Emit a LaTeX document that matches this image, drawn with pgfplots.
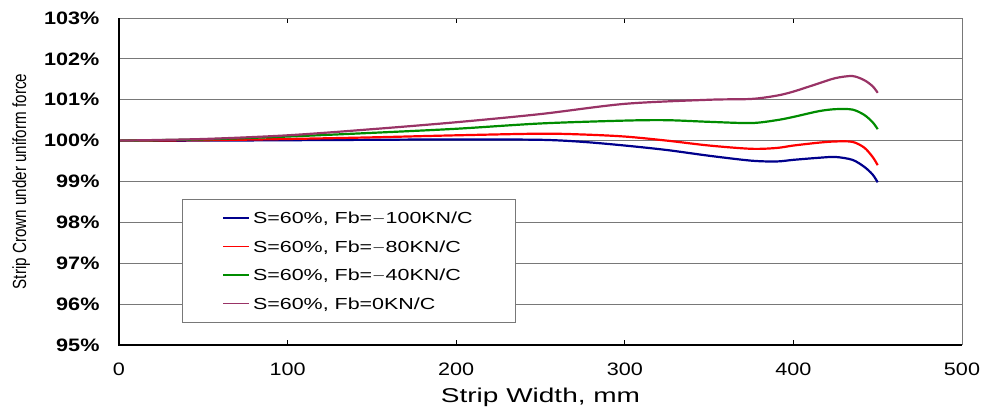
\documentclass[border=0pt]{standalone}
\usepackage{fontspec}
\usepackage{pgfplots}
\pgfplotsset{compat=1.18}
\setmainfont{Liberation Sans}
\newfontfamily\tickfont[FakeStretch=1.2]{Liberation Sans}
\newfontfamily\xlabfont[FakeStretch=1.4]{Liberation Sans}
\newfontfamily\legfont[FakeStretch=1.34]{Liberation Sans}
\newfontfamily\ylabfont[FakeStretch=0.8]{Liberation Sans}
\definecolor{cblue}{RGB}{0,0,140}
\definecolor{cred}{RGB}{255,0,0}
\definecolor{cgreen}{RGB}{0,140,0}
\definecolor{cpurple}{RGB}{153,51,102}
\definecolor{gridgray}{RGB}{120,120,120}
\begin{document}
\begin{tikzpicture}
\begin{axis}[
  scale only axis, width=843pt, height=327pt,
  xmin=0, xmax=500, ymin=95, ymax=103,
  xtick={0,100,200,300,400,500},
  ytick={95,96,97,98,99,100,101,102,103},
  yticklabel={\pgfmathprintnumber{\tick}\%},
  /pgf/number format/assume math mode=true,
  xticklabel style={font=\tickfont\fontsize{18}{20}\selectfont, yshift=-14pt},
  yticklabel style={font=\tickfont\bfseries\fontsize{18}{20}\selectfont, xshift=-16pt},
  ymajorgrids, grid style={gridgray, line width=0.9pt},
  tick align=inside, major tick length=5pt,
  ytick style={draw=none},
  xtick style={black, line width=1pt},
  axis line style={gridgray, line width=1pt},
  xlabel={Strip Width, mm},
  xlabel style={font=\xlabfont\fontsize{20}{22}\selectfont, at={(rel axis cs:0.5,-0.159)}, anchor=center},
  ylabel={Strip Crown under uniform force},
  ylabel style={font=\ylabfont\fontsize{19}{21}\selectfont, at={(rel axis cs:-0.116,0.5)}, anchor=center, rotate=0},
  legend style={at={(axis cs:37.4,98.58)}, anchor=north west, draw=gridgray, line width=0.8pt, fill=white,
    font=\legfont\fontsize{16}{18}\selectfont, inner xsep=40pt, inner ysep=13pt, row sep=17pt,
    nodes={inner ysep=0pt, inner xsep=3pt, text height=11.5pt, text depth=0pt}},
  legend cell align=left,
  legend image code/.code={\draw[#1, line width=1.6pt] (0pt,0pt) -- (26pt,0pt);},
  clip=false,
]
\addplot[cblue, line width=2.2pt, smooth, tension=0.5] coordinates {
(0,100) (50,100) (100,100.01) (150,100.02) (200,100.03) (250,100.02) (275,99.97) (300,99.88) (325,99.77) (350,99.63) (375,99.51) (390,99.49) (400,99.53) (415,99.58) (425,99.6) (435,99.53) (442,99.36) (447,99.17) (450,98.98)};
\addlegendentry{S=60\%, Fb=$-$100KN/C}
\addplot[cred, line width=2.2pt, smooth, tension=0.5] coordinates {
(0,100) (50,100.01) (100,100.04) (150,100.08) (200,100.13) (250,100.17) (275,100.15) (300,100.1) (325,100.0) (350,99.88) (375,99.8) (390,99.82) (400,99.88) (415,99.95) (425,99.98) (435,99.97) (442,99.83) (447,99.6) (450,99.4)};
\addlegendentry{S=60\%, Fb=$-$80KN/C}
\addplot[cgreen, line width=2.2pt, smooth, tension=0.5] coordinates {
(0,100) (50,100.03) (100,100.1) (150,100.19) (200,100.29) (250,100.42) (300,100.49) (325,100.5) (350,100.46) (375,100.43) (390,100.5) (400,100.58) (415,100.72) (425,100.77) (435,100.76) (442,100.63) (447,100.45) (450,100.28)};
\addlegendentry{S=60\%, Fb=$-$40KN/C}
\addplot[cpurple, line width=2.2pt, smooth, tension=0.5] coordinates {
(0,100) (50,100.04) (100,100.13) (150,100.28) (200,100.45) (250,100.65) (300,100.9) (350,101.0) (375,101.02) (390,101.1) (400,101.2) (415,101.4) (425,101.53) (435,101.58) (442,101.48) (447,101.33) (450,101.17)};
\addlegendentry{S=60\%, Fb=0KN/C}
\draw[black, line width=1.3pt] (rel axis cs:0,1) -- (rel axis cs:0,0) -- (rel axis cs:1,0);
\end{axis}
\pgfresetboundingbox
\useasboundingbox (current axis.south west) ++(-119pt,-67pt) rectangle ++(988pt,412pt);
\end{tikzpicture}
\end{document}
